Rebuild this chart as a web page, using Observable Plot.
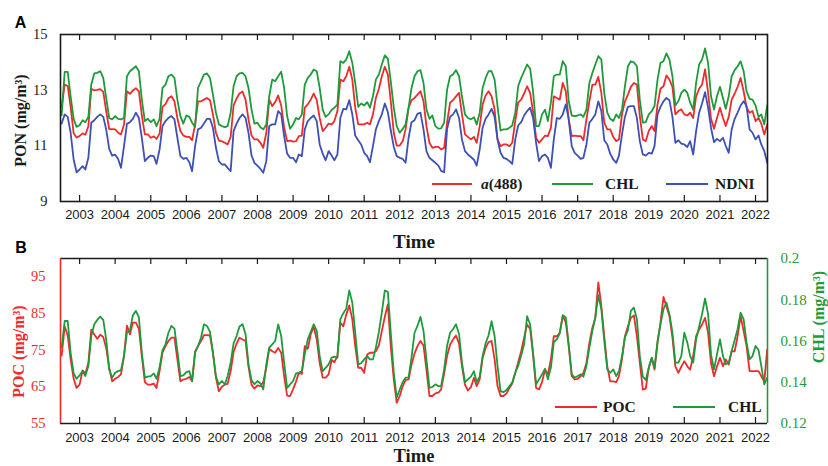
<!DOCTYPE html>
<html><head><meta charset="utf-8">
<script src="https://cdn.jsdelivr.net/npm/d3@7"></script>
<script src="https://cdn.jsdelivr.net/npm/@observablehq/plot@0.6"></script>
<style>
html,body{margin:0;padding:0;background:#fff;}
#chart{position:relative;width:828px;height:466px;background:#fff;overflow:hidden;}
#chart svg{position:absolute;left:0;}
</style></head><body><div id="chart"></div>
<script>
// ---- data (monthly, Jul 2002 .. May 2022) ----
const years = [2003,2004,2005,2006,2007,2008,2009,2010,2011,2012,2013,2014,2015,2016,2017,2018,2019,2020,2021,2022];
const ponTicks = [9, 11, 13, 15];
const pocTicks = [55, 65, 75, 85, 95];
const chlTicks = [0.12, 0.14, 0.16, 0.18, 0.2];
const chlTickLabels = ["0.12", "0.14", "0.16", "0.18", "0.2"];

const a488 = [
 12.4,13.2,13.15,12.4,11.45,11.3,
 11.35,11.45,11.4,11.7,13.05,12.99,13.01,13.04,12.94,12.25,11.6,11.6,
 11.59,11.47,11.41,11.77,12.96,12.87,12.99,13.07,12.96,12.09,11.41,11.41,
 11.29,11.34,11.25,11.44,12.4,12.5,12.71,12.78,12.6,12.0,11.53,11.37,
 11.32,11.32,11.2,11.77,12.6,12.6,12.66,12.72,12.64,12.13,11.47,11.19,
 11.16,11.11,11.05,11.32,12.45,12.7,12.88,12.95,12.66,11.95,11.37,11.23,
 11.23,11.11,10.93,11.47,12.66,12.43,12.57,12.81,12.45,11.65,11.17,11.19,
 11.15,11.17,11.35,11.37,12.37,12.49,12.66,12.88,12.64,12.0,11.53,11.65,
 11.8,11.77,11.89,12.25,13.38,13.32,13.5,13.84,13.38,12.37,11.77,11.77,
 11.77,11.83,11.77,12.13,12.72,13.05,13.5,13.84,13.56,12.6,11.47,11.01,
 11.01,11.17,11.59,12.37,12.64,12.72,12.84,12.96,12.6,11.71,11.11,10.93,
 10.96,10.96,10.87,10.93,11.83,12.55,12.64,12.78,12.9,12.13,11.41,11.32,
 11.23,11.32,11.11,11.71,12.49,12.81,12.96,12.78,12.3,11.23,10.99,11.05,
 11.05,10.99,11.11,11.89,12.55,12.66,12.88,13.14,12.9,12.22,11.29,11.11,
 11.23,11.37,11.35,11.65,12.78,12.72,12.66,13.26,12.96,11.95,11.35,11.37,
 11.35,11.35,11.2,11.95,12.6,13.2,13.2,13.48,12.9,11.83,11.59,11.59,
 11.32,11.17,11.23,12.13,12.6,12.84,13.12,13.26,13.2,12.07,11.23,11.17,
 11.53,11.71,11.53,12.49,13.05,13.14,13.53,13.38,13.12,12.13,12.25,12.31,
 12.13,12.09,12.19,12.0,12.78,13.05,13.2,13.75,12.9,11.97,11.61,12.0,
 12.37,12.0,11.71,12.04,12.66,12.88,13.12,13.44,12.96,12.37,12.19,12.25,
 11.89,12.0,11.8,11.41,11.77
];
const chlA = [
 12.1,13.66,13.66,12.78,11.97,11.68,
 11.74,11.92,11.85,12.04,13.2,13.6,13.62,13.68,13.44,12.72,12.0,11.95,
 12.07,11.97,11.95,12.0,13.5,13.68,13.77,13.86,13.68,12.66,11.89,11.97,
 11.85,11.95,11.71,11.97,13.08,13.2,13.5,13.56,13.44,12.66,12.07,11.8,
 12.09,12.04,11.83,11.68,13.08,13.32,13.56,13.6,13.44,12.84,12.19,11.77,
 11.71,11.67,11.71,12.19,13.14,13.5,13.6,13.62,13.5,13.08,12.31,11.8,
 11.83,11.67,11.59,11.77,12.78,13.38,13.32,13.5,13.66,13.08,12.07,11.61,
 11.77,12.0,11.95,12.13,13.2,13.44,13.56,13.74,13.68,13.08,12.3,12.04,
 12.13,12.3,12.37,12.48,14.04,13.98,14.1,14.4,13.98,13.26,12.4,12.52,
 12.45,12.57,12.37,12.78,13.38,13.56,13.92,14.25,14.13,13.32,12.37,11.71,
 11.47,11.61,11.77,12.37,13.08,13.5,13.68,13.72,13.26,12.31,11.97,12.09,
 11.71,11.62,11.63,11.83,13.02,13.5,13.56,13.72,13.5,12.78,12.13,12.0,
 11.95,12.03,11.77,12.19,13.08,13.44,13.68,13.68,13.38,12.43,11.55,11.59,
 11.59,11.65,11.73,12.19,13.14,13.44,13.68,13.92,13.77,12.95,11.71,11.71,
 12.13,12.3,11.89,12.55,13.5,13.56,13.56,14.04,13.86,12.6,12.09,12.07,
 12.09,12.13,12.04,12.3,13.26,13.62,13.92,14.22,14.1,12.9,12.19,11.97,
 11.89,12.13,12.0,12.3,13.14,13.86,14.04,14.0,13.86,12.66,11.83,11.85,
 12.13,12.25,12.43,13.38,13.98,14.04,14.32,14.1,13.5,12.45,12.6,12.9,
 13.02,12.9,12.55,12.3,13.26,13.92,14.1,14.5,13.98,12.78,12.3,12.78,
 13.12,12.72,12.33,12.78,13.5,13.72,13.86,14.04,13.68,12.96,12.69,12.66,
 12.45,12.04,12.13,11.77,12.45
];
const ndni = [
 11.8,12.13,12.04,11.47,10.51,10.05,
 10.15,10.27,10.15,10.57,11.83,11.92,12.04,12.13,12.04,11.59,10.89,10.65,
 10.68,10.53,10.21,10.99,11.79,11.85,11.97,12.19,12.0,11.29,10.45,10.57,
 10.65,10.63,10.35,10.87,11.71,11.89,12.0,12.07,11.95,11.29,10.63,10.53,
 10.57,10.41,10.09,10.99,11.59,11.65,11.8,11.97,11.97,11.65,10.93,10.45,
 10.33,10.33,10.21,10.09,11.53,11.8,12.0,12.13,12.0,11.47,10.66,10.39,
 10.29,10.17,10.03,10.45,11.71,11.77,11.77,12.25,12.13,11.35,10.72,10.57,
 10.57,10.41,10.69,10.63,11.59,11.89,12.0,12.09,11.89,11.05,10.72,10.48,
 10.81,10.65,10.48,10.69,12.0,12.33,12.31,12.64,12.13,11.37,11.2,11.05,
 10.75,10.63,10.41,10.99,11.59,11.89,12.13,12.52,12.21,11.56,10.96,10.63,
 10.57,10.53,10.39,11.29,11.85,11.92,12.15,12.19,11.59,10.81,10.57,10.48,
 10.39,10.29,10.1,10.05,11.6,12.04,12.13,12.31,12.0,11.23,10.81,10.69,
 10.6,10.5,10.29,10.87,11.65,11.97,12.13,12.33,12.04,11.23,10.75,10.57,
 10.53,10.45,10.35,11.23,11.73,11.85,12.09,12.25,12.37,12.0,11.11,10.45,
 10.63,10.69,10.57,10.21,11.23,12.0,11.97,12.13,12.49,11.95,10.99,10.75,
 10.65,10.53,10.57,11.05,11.83,11.97,12.13,12.6,12.25,11.2,11.05,10.72,
 10.51,10.39,10.65,11.41,12.04,12.4,12.43,12.43,12.0,11.17,10.69,10.65,
 10.75,10.72,10.99,12.13,12.4,12.6,12.72,12.64,12.04,11.11,11.2,11.08,
 11.05,10.96,11.17,10.69,11.53,12.19,12.52,12.93,12.37,11.65,11.13,11.25,
 11.17,11.29,11.0,10.75,11.59,11.97,12.19,12.45,12.6,12.43,11.59,11.47,
 11.23,11.37,11.05,10.81,10.39
];
const poc = [
 73.5,81.5,79.0,72.5,67.2,64.7,
 65.6,69.5,68.6,71.5,80.6,79.3,78.1,79.2,78.6,75.6,70.2,66.5,
 67.2,67.7,68.4,73.4,81.7,79.3,82.5,82.5,80.8,73.4,66.3,65.6,
 65.6,65.9,64.7,69.3,74.3,76.1,77.5,78.4,78.4,72.5,66.5,67.0,
 67.2,67.7,66.5,74.7,76.1,77.5,79.1,79.1,79.0,74.3,67.5,63.8,
 65.0,65.6,65.8,69.3,74.5,76.8,78.4,77.9,77.5,70.6,65.6,64.5,
 65.4,65.2,66.3,70.2,75.4,74.7,74.3,75.6,74.3,67.9,62.6,62.5,
 64.3,66.5,68.8,68.5,76.1,75.4,79.3,81.4,77.9,71.5,67.5,67.5,
 68.4,72.3,71.7,73.4,82.5,81.5,84.7,87.2,83.4,76.1,70.2,70.2,
 68.8,73.8,74.3,74.3,74.7,76.3,80.2,84.1,87.5,76.1,67.0,60.6,
 62.5,65.2,66.8,67.0,71.1,74.1,76.1,77.5,76.3,69.7,62.5,62.5,
 63.2,63.4,64.3,68.6,73.4,76.5,77.9,79.0,76.8,70.6,65.6,64.0,
 64.9,67.5,65.2,67.0,72.9,75.6,77.2,77.5,72.5,65.2,62.5,62.5,
 63.2,64.7,65.9,68.8,71.7,74.7,78.4,82.0,80.8,73.8,64.7,64.3,
 66.3,69.7,68.4,72.5,78.8,78.8,79.7,84.3,82.6,76.1,67.9,67.0,
 67.2,67.9,68.8,71.5,77.0,81.1,83.8,93.5,87.0,78.8,70.6,66.5,
 66.5,66.3,67.9,72.5,78.8,81.5,83.8,84.5,78.8,71.5,64.2,64.5,
 70.2,72.9,69.7,77.0,82.5,89.5,87.0,84.3,78.4,70.6,68.8,70.5,
 72.0,70.6,69.7,73.4,78.8,80.6,82.0,83.8,79.7,71.5,67.9,70.5,
 72.9,70.6,72.5,71.1,74.7,74.7,78.8,84.3,80.2,76.1,69.3,69.3,
 69.3,69.3,67.9,66.5,75.2
];
const chlB = [
 0.157,0.1697,0.1697,0.1543,0.1443,0.1417,
 0.1433,0.1454,0.143,0.1479,0.1624,0.1681,0.1702,0.1718,0.1702,0.1608,0.1462,0.1422,
 0.1446,0.1454,0.1459,0.1527,0.164,0.1653,0.1725,0.1746,0.1714,0.1543,0.1422,0.1427,
 0.143,0.1443,0.1417,0.1471,0.1556,0.1584,0.164,0.1673,0.166,0.1552,0.143,0.1433,
 0.1449,0.1454,0.1406,0.1543,0.1576,0.1617,0.1681,0.1673,0.1644,0.1543,0.1427,0.139,
 0.1406,0.139,0.143,0.1495,0.1589,0.1624,0.167,0.1681,0.1633,0.1487,0.1411,0.139,
 0.1406,0.1394,0.1365,0.1487,0.1568,0.1584,0.16,0.1681,0.1624,0.1495,0.1373,0.139,
 0.1406,0.1443,0.1446,0.1454,0.1535,0.1608,0.1644,0.1681,0.1649,0.1527,0.1454,0.147,
 0.1487,0.1519,0.1524,0.1519,0.1705,0.1735,0.1757,0.1845,0.1786,0.164,0.1487,0.1492,
 0.1511,0.1527,0.1511,0.1511,0.1568,0.1644,0.1738,0.1845,0.1838,0.164,0.1446,0.1325,
 0.1365,0.1401,0.1422,0.1422,0.1519,0.164,0.1673,0.1717,0.1649,0.1511,0.1373,0.1377,
 0.139,0.1381,0.1381,0.1462,0.1576,0.164,0.1657,0.1681,0.1633,0.1495,0.1401,0.1414,
 0.1427,0.1454,0.1401,0.1427,0.1527,0.1589,0.1628,0.1696,0.1624,0.1479,0.1357,0.1352,
 0.1362,0.1381,0.1398,0.1446,0.1479,0.153,0.1584,0.172,0.168,0.1543,0.139,0.1414,
 0.1438,0.1466,0.1414,0.1471,0.1595,0.1608,0.1637,0.1725,0.1714,0.1584,0.1438,0.1422,
 0.143,0.1438,0.1427,0.1479,0.1568,0.1649,0.1714,0.1822,0.1754,0.16,0.1462,0.1446,
 0.1462,0.143,0.1454,0.1527,0.1617,0.1653,0.1746,0.1762,0.1705,0.1527,0.1427,0.1411,
 0.147,0.1519,0.147,0.16,0.1681,0.1754,0.1786,0.173,0.164,0.1495,0.1495,0.1527,
 0.164,0.1592,0.1527,0.1495,0.1608,0.167,0.173,0.1806,0.173,0.1535,0.1462,0.1535,
 0.1608,0.1527,0.1487,0.1495,0.1552,0.1605,0.1657,0.1738,0.1705,0.1592,0.1511,0.1527,
 0.1576,0.1556,0.1479,0.139,0.1422
];

// ---- styling ----
const RED = "#ee2a2a", GREEN = "#1f9a3b", BLUE = "#3d50b6", INK = "#1a1a1a";
const serif = "'Liberation Serif','Times New Roman',serif";
const sans = "'Liberation Sans',Arial,sans-serif";
const monthDate = i => new Date(Date.UTC(2002, 6 + i, 1));
const xDomain = [new Date(Date.UTC(2002, 5, 19)), new Date(Date.UTC(2022, 4, 4))];
const yearDates = years.map(y => new Date(Date.UTC(y, 0, 1)));
const pocEq = c => 55 + (c - 0.12) / 0.08 * 45;

const rowsA = a488.map((v, i) => ({date: monthDate(i), a488: v, chl: chlA[i], ndni: ndni[i]}));
const rowsB = poc.map((v, i) => ({date: monthDate(i), poc: v, chl: pocEq(chlB[i])}));

function legendMark(items, offsetY) {
  return (index, scales, values, dims) => {
    const g = d3.create("svg:g");
    const right = dims.width - dims.marginRight;
    const y = dims.height - dims.marginBottom - offsetY;
    for (const it of items) {
      g.append("line").attr("x1", right - it.l1).attr("x2", right - it.l2)
        .attr("y1", y).attr("y2", y).attr("stroke", it.color).attr("stroke-width", 2);
      const t = g.append("text").attr("x", right - it.t).attr("y", y).attr("dy", "0.35em")
        .attr("text-anchor", "start")
        .attr("font-family", serif).attr("font-weight", "bold").attr("font-size", 15.5).attr("fill", INK);
      if (it.italic) t.append("tspan").attr("font-style", "italic").text(it.italic);
      t.append("tspan").text(it.label);
    }
    return g.node();
  };
}

const mid = {textAnchor: "middle", lineAnchor: "middle"};
const W = 828;
// ---- Panel A ----
const hA = 252, mtA = 34, mbA = 51;
const plotA = Plot.plot({
  width: W, height: hA, marginTop: mtA, marginBottom: mbA, marginLeft: 60, marginRight: 61,
  x: {type: "utc", domain: xDomain, axis: null},
  y: {domain: [9, 15], axis: null},
  marks: [
    Plot.line(rowsA, {x: "date", y: "a488", stroke: RED, strokeWidth: 1.8}),
    Plot.line(rowsA, {x: "date", y: "chl", stroke: GREEN, strokeWidth: 1.8}),
    Plot.line(rowsA, {x: "date", y: "ndni", stroke: BLUE, strokeWidth: 1.8}),
    Plot.ruleX(yearDates, {x: d => d, insetBottom: hA - mtA - mbA - 6, stroke: INK, strokeWidth: 1.2}),
    Plot.ruleX(yearDates, {x: d => d, insetTop: hA - mtA - mbA - 6, stroke: INK, strokeWidth: 1.2}),
    Plot.frame({stroke: INK, strokeWidth: 1.6}),
    Plot.text(yearDates, {x: d => d, text: d => String(d.getUTCFullYear()), frameAnchor: "bottom", dy: 13.5, ...mid, fontSize: 13, fontFamily: sans, fill: INK}),
    Plot.text(ponTicks, {y: d => d, text: d => String(d), frameAnchor: "left", dx: -13, textAnchor: "end", lineAnchor: "middle", fontSize: 14.5, fontFamily: serif, fill: INK}),
    Plot.text(["PON (mg/m³)"], {text: d => d, frameAnchor: "left", dx: -40, dy: 2.5, rotate: -90, ...mid, fontSize: 16, fontWeight: "bold", fontFamily: serif, fill: INK}),
    Plot.text(["Time"], {text: d => d, frameAnchor: "bottom", dy: 40.5, ...mid, fontSize: 19, fontWeight: "bold", fontFamily: serif, fill: INK}),
    Plot.text(["A"], {text: d => d, frameAnchor: "top-left", dx: -40, dy: -11.5, ...mid, fontSize: 16, fontWeight: "bold", fontFamily: sans, fill: "#000"}),
    legendMark([
      {color: RED, l1: 335, l2: 295, t: 286, italic: "a", label: "(488)"},
      {color: GREEN, l1: 215, l2: 174, t: 162, label: "CHL"},
      {color: BLUE, l1: 101, l2: 59, t: 52, label: "NDNI"}
    ], 17)
  ]
});

// ---- Panel B ----
const hB = 214, mtB = 6, mbB = 43;
const plotB = Plot.plot({
  width: W, height: hB, marginTop: mtB, marginBottom: mbB, marginLeft: 60, marginRight: 61,
  x: {type: "utc", domain: xDomain, axis: null},
  y: {domain: [55, 100], axis: null},
  marks: [
    Plot.line(rowsB, {x: "date", y: "poc", stroke: RED, strokeWidth: 1.8}),
    Plot.line(rowsB, {x: "date", y: "chl", stroke: GREEN, strokeWidth: 1.8}),
    Plot.ruleX(yearDates, {x: d => d, insetBottom: hB - mtB - mbB - 6, stroke: INK, strokeWidth: 1.2}),
    Plot.ruleX(yearDates, {x: d => d, insetTop: hB - mtB - mbB - 6, stroke: INK, strokeWidth: 1.2}),
    Plot.ruleY([55, 100], {stroke: INK, strokeWidth: 1.6}),
    Plot.ruleX([xDomain[0]], {x: d => d, stroke: RED, strokeWidth: 1.6}),
    Plot.ruleX([xDomain[1]], {x: d => d, stroke: GREEN, strokeWidth: 1.6}),
    Plot.text(yearDates, {x: d => d, text: d => String(d.getUTCFullYear()), frameAnchor: "bottom", dy: 14, ...mid, fontSize: 13, fontFamily: sans, fill: INK}),
    Plot.text(pocTicks, {y: d => d, text: d => String(d), frameAnchor: "left", dx: -15, textAnchor: "end", lineAnchor: "middle", fontSize: 14.5, fontFamily: serif, fill: RED}),
    Plot.text(chlTicks, {y: d => pocEq(d), text: (d, i) => chlTickLabels[i], frameAnchor: "right", dx: 13, textAnchor: "start", lineAnchor: "middle", fontSize: 15, fontFamily: serif, fill: GREEN}),
    Plot.text(["POC (mg/m³)"], {text: d => d, frameAnchor: "left", dx: -41.5, dy: 10.5, rotate: -90, ...mid, fontSize: 16, fontWeight: "bold", fontFamily: serif, fill: RED}),
    Plot.text(["CHL (mg/m³)"], {text: d => d, frameAnchor: "right", dx: 51, dy: -24, rotate: -90, ...mid, fontSize: 16, fontWeight: "bold", fontFamily: serif, fill: GREEN}),
    Plot.text(["Time"], {text: d => d, frameAnchor: "bottom", dy: 33, ...mid, fontSize: 18.5, fontWeight: "bold", fontFamily: serif, fill: INK}),
    Plot.text(["B"], {text: d => d, frameAnchor: "top-left", dx: -39.5, dy: -11, ...mid, fontSize: 16, fontWeight: "bold", fontFamily: sans, fill: "#000"}),
    legendMark([
      {color: RED, l1: 212, l2: 170, t: 164, label: "POC"},
      {color: GREEN, l1: 94, l2: 52, t: 39, label: "CHL"}
    ], 16)
  ]
});

const chart = document.getElementById("chart");
for (const [svg, top] of [[plotA, 0], [plotB, hA]]) {
  svg.style.position = "absolute";
  svg.style.top = top + "px";
  svg.style.left = "0px";
  svg.style.overflow = "visible";
  svg.style.background = "transparent";
  svg.style.maxWidth = "none";
  chart.appendChild(svg);
}
</script>
</body></html>
